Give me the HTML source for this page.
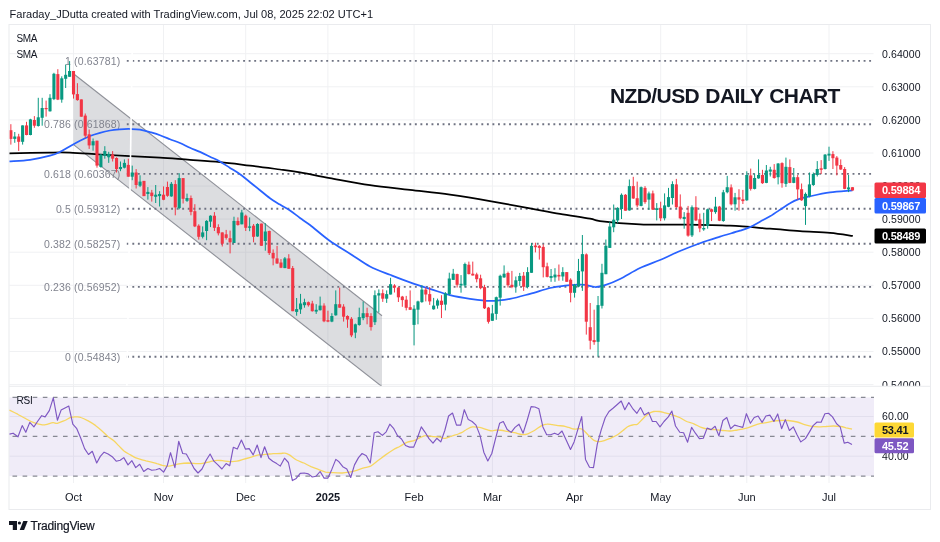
<!DOCTYPE html><html><head><meta charset="utf-8"><title>NZD/USD Daily Chart</title>
<style>html,body{margin:0;padding:0;background:#fff;}body{width:940px;height:542px;overflow:hidden;}svg{display:block;will-change:transform;font-family:"Liberation Sans",sans-serif;}text{font-family:"Liberation Sans",sans-serif;}</style></head><body>
<svg width="940" height="542" viewBox="0 0 940 542">
<rect x="0" y="0" width="940" height="542" fill="#fff"/>
<text x="9.5" y="17.6" font-size="11.05" fill="#131722" id="hdr">Faraday_JDutta created with TradingView.com, Jul 08, 2025 22:02 UTC+1</text>
<rect x="9.0" y="24.5" width="921.5" height="485.0" fill="#fff" stroke="#eaebee" stroke-width="1"/>
<g stroke="#f0f1f3" stroke-width="1">
<line x1="73.5" y1="25" x2="73.5" y2="483"/>
<line x1="163.5" y1="25" x2="163.5" y2="483"/>
<line x1="245.7" y1="25" x2="245.7" y2="483"/>
<line x1="327.9" y1="25" x2="327.9" y2="483"/>
<line x1="414.1" y1="25" x2="414.1" y2="483"/>
<line x1="492.4" y1="25" x2="492.4" y2="483"/>
<line x1="574.6" y1="25" x2="574.6" y2="483"/>
<line x1="660.7" y1="25" x2="660.7" y2="483"/>
<line x1="746.8" y1="25" x2="746.8" y2="483"/>
<line x1="829.0" y1="25" x2="829.0" y2="483"/>
<line x1="9.0" y1="53.7" x2="873.5" y2="53.7"/>
<line x1="9.0" y1="86.8" x2="873.5" y2="86.8"/>
<line x1="9.0" y1="119.9" x2="873.5" y2="119.9"/>
<line x1="9.0" y1="153.0" x2="873.5" y2="153.0"/>
<line x1="9.0" y1="186.1" x2="873.5" y2="186.1"/>
<line x1="9.0" y1="219.1" x2="873.5" y2="219.1"/>
<line x1="9.0" y1="252.2" x2="873.5" y2="252.2"/>
<line x1="9.0" y1="285.3" x2="873.5" y2="285.3"/>
<line x1="9.0" y1="318.4" x2="873.5" y2="318.4"/>
<line x1="9.0" y1="351.5" x2="873.5" y2="351.5"/>
<line x1="9.0" y1="384.6" x2="873.5" y2="384.6"/>
<line x1="9.0" y1="416.5" x2="873.5" y2="416.5"/>
<line x1="9.0" y1="456.2" x2="873.5" y2="456.2"/>
</g>
<line x1="9.0" y1="386.3" x2="930.5" y2="386.3" stroke="#eaebee" stroke-width="1"/>
<defs><clipPath id="cp"><rect x="9.5" y="25" width="864.5" height="360.8"/></clipPath><clipPath id="ca"><rect x="873.5" y="25" width="57.0" height="360.8"/></clipPath></defs>
<g clip-path="url(#cp)">
<polygon points="73.5,73.7 382.0,315.7 382.0,386.6 73.5,144.6" fill="rgba(120,123,134,0.26)"/>
<line x1="73.5" y1="73.7" x2="382.0" y2="315.7" stroke="#8e9098" stroke-width="1.1"/>
<line x1="73.5" y1="144.6" x2="382.0" y2="386.6" stroke="#8e9098" stroke-width="1.1"/>
<line x1="126.8" y1="60.9" x2="872.5" y2="60.9" stroke="#6f7382" stroke-width="1.9" stroke-dasharray="1.9 3.64"/>
<text x="120.3" y="64.8" font-size="10.5" fill="#80838e" text-anchor="end" letter-spacing="0.15">1 (0.63781)</text>
<line x1="126.8" y1="124.2" x2="872.5" y2="124.2" stroke="#6f7382" stroke-width="1.9" stroke-dasharray="1.9 3.64"/>
<text x="120.3" y="128.1" font-size="10.5" fill="#80838e" text-anchor="end" letter-spacing="0.15">0.786 (0.61868)</text>
<line x1="126.8" y1="173.9" x2="872.5" y2="173.9" stroke="#6f7382" stroke-width="1.9" stroke-dasharray="1.9 3.64"/>
<text x="120.3" y="177.8" font-size="10.5" fill="#80838e" text-anchor="end" letter-spacing="0.15">0.618 (0.60367)</text>
<line x1="126.8" y1="208.8" x2="872.5" y2="208.8" stroke="#6f7382" stroke-width="1.9" stroke-dasharray="1.9 3.64"/>
<text x="120.3" y="212.7" font-size="10.5" fill="#80838e" text-anchor="end" letter-spacing="0.15">0.5 (0.59312)</text>
<line x1="126.8" y1="243.7" x2="872.5" y2="243.7" stroke="#6f7382" stroke-width="1.9" stroke-dasharray="1.9 3.64"/>
<text x="120.3" y="247.6" font-size="10.5" fill="#80838e" text-anchor="end" letter-spacing="0.15">0.382 (0.58257)</text>
<line x1="126.8" y1="286.9" x2="872.5" y2="286.9" stroke="#6f7382" stroke-width="1.9" stroke-dasharray="1.9 3.64"/>
<text x="120.3" y="290.8" font-size="10.5" fill="#80838e" text-anchor="end" letter-spacing="0.15">0.236 (0.56952)</text>
<line x1="126.8" y1="356.7" x2="872.5" y2="356.7" stroke="#6f7382" stroke-width="1.9" stroke-dasharray="1.9 3.64"/>
<text x="120.3" y="360.6" font-size="10.5" fill="#80838e" text-anchor="end" letter-spacing="0.15">0 (0.54843)</text>
<path d="M9.0,153.5 C15.8,153.3 39.8,152.8 50.0,152.6 C60.2,152.4 61.7,152.3 70.0,152.6 C78.3,152.9 90.0,153.9 100.0,154.5 C110.0,155.1 120.0,155.6 130.0,156.1 C140.0,156.6 150.0,157.1 160.0,157.7 C170.0,158.3 180.0,159.2 190.0,159.9 C200.0,160.6 210.0,161.2 220.0,162.1 C230.0,163.0 240.0,164.4 250.0,165.6 C260.0,166.8 271.7,168.4 280.0,169.5 C288.3,170.6 291.7,171.0 300.0,172.4 C308.3,173.8 318.3,176.0 330.0,178.1 C341.7,180.2 356.7,183.1 370.0,185.1 C383.3,187.1 396.7,188.3 410.0,189.9 C423.3,191.5 436.7,192.8 450.0,194.7 C463.3,196.6 476.7,198.8 490.0,201.1 C503.3,203.4 518.3,206.3 530.0,208.4 C541.7,210.5 550.0,212.1 560.0,213.8 C570.0,215.5 583.3,217.4 590.0,218.6 C596.7,219.8 591.7,220.1 600.0,221.1 C608.3,222.1 626.7,223.7 640.0,224.3 C653.3,224.9 665.0,224.4 680.0,224.6 C695.0,224.8 715.0,225.0 730.0,225.7 C745.0,226.4 758.3,227.8 770.0,228.7 C781.7,229.6 790.0,230.5 800.0,231.2 C810.0,231.9 821.2,232.1 830.0,232.9 C838.8,233.7 849.0,235.4 852.8,235.9" fill="none" stroke="#000" stroke-width="1.75" stroke-linejoin="round"/>
<path d="M9.0,161.5 C12.5,161.2 23.2,160.9 30.0,159.9 C36.8,158.9 45.0,157.0 50.0,155.7 C55.0,154.4 56.7,153.5 60.0,151.9 C63.3,150.3 66.7,148.1 70.0,146.2 C73.3,144.3 76.7,142.4 80.0,140.7 C83.3,139.0 86.7,137.3 90.0,136.0 C93.3,134.7 96.7,133.7 100.0,132.8 C103.3,131.9 106.7,131.1 110.0,130.5 C113.3,129.9 116.7,129.6 120.0,129.3 C123.3,129.1 126.7,128.9 130.0,129.0 C133.3,129.1 136.7,129.1 140.0,129.6 C143.3,130.1 146.7,131.1 150.0,132.1 C153.3,133.1 156.7,134.1 160.0,135.3 C163.3,136.5 166.7,137.9 170.0,139.2 C173.3,140.5 176.7,141.6 180.0,143.0 C183.3,144.4 186.7,146.3 190.0,147.8 C193.3,149.3 196.7,150.4 200.0,151.9 C203.3,153.4 206.7,155.1 210.0,156.7 C213.3,158.3 216.7,159.6 220.0,161.5 C223.3,163.4 226.7,165.8 230.0,167.9 C233.3,170.0 236.7,171.9 240.0,174.3 C243.3,176.7 246.7,179.5 250.0,182.2 C253.3,184.8 256.7,187.5 260.0,190.2 C263.3,192.9 266.7,195.8 270.0,198.2 C273.3,200.6 276.7,202.5 280.0,204.6 C283.3,206.7 286.7,208.3 290.0,210.5 C293.3,212.7 296.7,215.6 300.0,218.0 C303.3,220.4 305.0,221.2 310.0,225.0 C315.0,228.8 323.3,236.2 330.0,241.0 C336.7,245.8 343.3,249.4 350.0,253.7 C356.7,257.9 363.3,263.0 370.0,266.5 C376.7,270.0 383.3,272.2 390.0,274.8 C396.7,277.4 403.3,280.0 410.0,282.3 C416.7,284.6 423.3,286.7 430.0,288.8 C436.7,290.9 443.3,293.5 450.0,295.2 C456.7,296.9 463.3,297.9 470.0,298.8 C476.7,299.8 483.3,300.9 490.0,300.9 C496.7,300.9 503.3,300.0 510.0,298.8 C516.7,297.6 523.3,295.6 530.0,293.8 C536.7,292.0 544.2,289.4 550.0,288.0 C555.8,286.6 560.8,286.1 565.0,285.6 C569.2,285.1 571.7,284.9 575.0,284.8 C578.3,284.7 581.7,284.4 585.0,284.8 C588.3,285.2 591.7,286.9 595.0,287.0 C598.3,287.1 600.8,286.5 605.0,285.2 C609.2,283.9 614.2,281.9 620.0,279.0 C625.8,276.1 633.3,271.2 640.0,268.0 C646.7,264.8 653.3,262.8 660.0,260.0 C666.7,257.2 673.3,253.8 680.0,251.0 C686.7,248.2 693.3,245.6 700.0,243.2 C706.7,240.8 713.3,238.8 720.0,236.7 C726.7,234.6 735.0,232.3 740.0,230.7 C745.0,229.1 746.7,228.6 750.0,227.1 C753.3,225.6 756.7,223.5 760.0,221.7 C763.3,219.9 766.7,218.3 770.0,216.3 C773.3,214.3 776.7,212.0 780.0,209.8 C783.3,207.6 786.7,205.0 790.0,203.2 C793.3,201.3 796.7,199.8 800.0,198.7 C803.3,197.5 805.0,197.4 810.0,196.3 C815.0,195.2 822.9,193.4 830.0,192.4 C837.1,191.4 848.8,190.7 852.5,190.3" fill="none" stroke="#2962ff" stroke-width="1.75" stroke-linejoin="round"/>
<line x1="132.6" y1="25" x2="126.9" y2="386" stroke="#fff" stroke-width="1.6"/>
<line x1="10.87" y1="124.2" x2="10.87" y2="144.6" stroke="#f23645" stroke-width="1"/>
<rect x="9.32" y="130.2" width="3.1" height="8.7" fill="#f23645"/>
<line x1="14.78" y1="132.0" x2="14.78" y2="142.8" stroke="#089981" stroke-width="1"/>
<rect x="13.23" y="136.5" width="3.1" height="2.4" fill="#089981"/>
<line x1="18.70" y1="133.8" x2="18.70" y2="150.9" stroke="#f23645" stroke-width="1"/>
<rect x="17.15" y="136.5" width="3.1" height="5.3" fill="#f23645"/>
<line x1="22.61" y1="125.4" x2="22.61" y2="144.6" stroke="#089981" stroke-width="1"/>
<rect x="21.06" y="125.4" width="3.1" height="16.4" fill="#089981"/>
<line x1="26.53" y1="121.8" x2="26.53" y2="135.3" stroke="#f23645" stroke-width="1"/>
<rect x="24.98" y="125.4" width="3.1" height="9.6" fill="#f23645"/>
<line x1="30.44" y1="118.8" x2="30.44" y2="135.3" stroke="#089981" stroke-width="1"/>
<rect x="28.89" y="119.4" width="3.1" height="15.6" fill="#089981"/>
<line x1="34.36" y1="116.1" x2="34.36" y2="127.8" stroke="#f23645" stroke-width="1"/>
<rect x="32.81" y="120.0" width="3.1" height="5.7" fill="#f23645"/>
<line x1="38.27" y1="97.8" x2="38.27" y2="126.6" stroke="#089981" stroke-width="1"/>
<rect x="36.72" y="117.3" width="3.1" height="8.7" fill="#089981"/>
<line x1="42.18" y1="97.8" x2="42.18" y2="125.7" stroke="#089981" stroke-width="1"/>
<rect x="40.63" y="108.0" width="3.1" height="9.8" fill="#089981"/>
<line x1="46.10" y1="100.6" x2="46.10" y2="116.6" stroke="#f23645" stroke-width="1"/>
<rect x="44.55" y="108.0" width="3.1" height="1.2" fill="#f23645"/>
<line x1="50.01" y1="94.2" x2="50.01" y2="111.6" stroke="#089981" stroke-width="1"/>
<rect x="48.46" y="97.8" width="3.1" height="13.5" fill="#089981"/>
<line x1="53.93" y1="72.8" x2="53.93" y2="100.1" stroke="#089981" stroke-width="1"/>
<rect x="52.38" y="73.8" width="3.1" height="25.3" fill="#089981"/>
<line x1="57.84" y1="69.2" x2="57.84" y2="100.1" stroke="#f23645" stroke-width="1"/>
<rect x="56.29" y="74.1" width="3.1" height="25.5" fill="#f23645"/>
<line x1="61.76" y1="76.3" x2="61.76" y2="102.7" stroke="#089981" stroke-width="1"/>
<rect x="60.21" y="78.3" width="3.1" height="21.3" fill="#089981"/>
<line x1="65.67" y1="64.6" x2="65.67" y2="88.0" stroke="#089981" stroke-width="1"/>
<rect x="64.12" y="74.8" width="3.1" height="4.0" fill="#089981"/>
<line x1="69.59" y1="61.1" x2="69.59" y2="76.8" stroke="#089981" stroke-width="1"/>
<rect x="68.04" y="71.0" width="3.1" height="5.8" fill="#089981"/>
<line x1="73.50" y1="71.0" x2="73.50" y2="98.6" stroke="#f23645" stroke-width="1"/>
<rect x="71.95" y="71.0" width="3.1" height="23.4" fill="#f23645"/>
<line x1="77.41" y1="83.2" x2="77.41" y2="100.7" stroke="#f23645" stroke-width="1"/>
<rect x="75.86" y="94.1" width="3.1" height="6.0" fill="#f23645"/>
<line x1="81.33" y1="99.4" x2="81.33" y2="116.7" stroke="#f23645" stroke-width="1"/>
<rect x="79.78" y="99.4" width="3.1" height="17.3" fill="#f23645"/>
<line x1="85.24" y1="113.5" x2="85.24" y2="137.8" stroke="#f23645" stroke-width="1"/>
<rect x="83.69" y="115.6" width="3.1" height="20.1" fill="#f23645"/>
<line x1="89.16" y1="129.5" x2="89.16" y2="148.9" stroke="#f23645" stroke-width="1"/>
<rect x="87.61" y="134.3" width="3.1" height="11.1" fill="#f23645"/>
<line x1="93.07" y1="138.5" x2="93.07" y2="150.7" stroke="#089981" stroke-width="1"/>
<rect x="91.52" y="141.2" width="3.1" height="4.2" fill="#089981"/>
<line x1="96.99" y1="140.7" x2="96.99" y2="167.7" stroke="#f23645" stroke-width="1"/>
<rect x="95.44" y="140.7" width="3.1" height="24.9" fill="#f23645"/>
<line x1="100.90" y1="153.9" x2="100.90" y2="167.7" stroke="#089981" stroke-width="1"/>
<rect x="99.35" y="154.5" width="3.1" height="12.5" fill="#089981"/>
<line x1="104.82" y1="146.2" x2="104.82" y2="158.7" stroke="#089981" stroke-width="1"/>
<rect x="103.27" y="151.1" width="3.1" height="4.8" fill="#089981"/>
<line x1="108.73" y1="151.8" x2="108.73" y2="162.9" stroke="#089981" stroke-width="1"/>
<rect x="107.18" y="153.9" width="3.1" height="3.4" fill="#089981"/>
<line x1="112.64" y1="151.1" x2="112.64" y2="161.5" stroke="#f23645" stroke-width="1"/>
<rect x="111.09" y="154.5" width="3.1" height="4.2" fill="#f23645"/>
<line x1="116.56" y1="157.3" x2="116.56" y2="172.5" stroke="#f23645" stroke-width="1"/>
<rect x="115.01" y="158.0" width="3.1" height="11.1" fill="#f23645"/>
<line x1="120.47" y1="161.5" x2="120.47" y2="171.2" stroke="#089981" stroke-width="1"/>
<rect x="118.92" y="167.0" width="3.1" height="2.1" fill="#089981"/>
<line x1="124.39" y1="159.4" x2="124.39" y2="168.4" stroke="#089981" stroke-width="1"/>
<rect x="122.84" y="162.9" width="3.1" height="4.8" fill="#089981"/>
<line x1="128.30" y1="158.7" x2="128.30" y2="176.7" stroke="#f23645" stroke-width="1"/>
<rect x="126.75" y="164.9" width="3.1" height="11.8" fill="#f23645"/>
<line x1="132.22" y1="165.6" x2="132.22" y2="180.2" stroke="#089981" stroke-width="1"/>
<rect x="130.67" y="172.5" width="3.1" height="4.2" fill="#089981"/>
<line x1="136.13" y1="169.1" x2="136.13" y2="188.5" stroke="#f23645" stroke-width="1"/>
<rect x="134.58" y="172.5" width="3.1" height="12.5" fill="#f23645"/>
<line x1="140.05" y1="175.3" x2="140.05" y2="187.1" stroke="#089981" stroke-width="1"/>
<rect x="138.50" y="181.6" width="3.1" height="4.1" fill="#089981"/>
<line x1="143.96" y1="180.9" x2="143.96" y2="196.1" stroke="#f23645" stroke-width="1"/>
<rect x="142.41" y="180.9" width="3.1" height="15.2" fill="#f23645"/>
<line x1="147.88" y1="187.1" x2="147.88" y2="199.6" stroke="#089981" stroke-width="1"/>
<rect x="146.33" y="191.9" width="3.1" height="2.1" fill="#089981"/>
<line x1="151.79" y1="189.9" x2="151.79" y2="201.6" stroke="#f23645" stroke-width="1"/>
<rect x="150.24" y="192.6" width="3.1" height="3.5" fill="#f23645"/>
<line x1="155.70" y1="185.0" x2="155.70" y2="203.0" stroke="#089981" stroke-width="1"/>
<rect x="154.15" y="194.7" width="3.1" height="2.1" fill="#089981"/>
<line x1="159.62" y1="191.2" x2="159.62" y2="206.5" stroke="#089981" stroke-width="1"/>
<rect x="158.07" y="194.0" width="3.1" height="2.1" fill="#089981"/>
<line x1="163.53" y1="186.4" x2="163.53" y2="200.2" stroke="#f23645" stroke-width="1"/>
<rect x="161.98" y="194.7" width="3.1" height="5.1" fill="#f23645"/>
<line x1="167.45" y1="181.6" x2="167.45" y2="196.8" stroke="#f23645" stroke-width="1"/>
<rect x="165.90" y="187.0" width="3.1" height="8.8" fill="#f23645"/>
<line x1="171.36" y1="182.0" x2="171.36" y2="196.8" stroke="#089981" stroke-width="1"/>
<rect x="169.81" y="183.8" width="3.1" height="12.6" fill="#089981"/>
<line x1="175.28" y1="180.2" x2="175.28" y2="215.3" stroke="#f23645" stroke-width="1"/>
<rect x="173.73" y="184.1" width="3.1" height="23.3" fill="#f23645"/>
<line x1="179.19" y1="173.2" x2="179.19" y2="209.3" stroke="#089981" stroke-width="1"/>
<rect x="177.64" y="178.1" width="3.1" height="30.0" fill="#089981"/>
<line x1="183.11" y1="178.1" x2="183.11" y2="203.5" stroke="#f23645" stroke-width="1"/>
<rect x="181.56" y="178.1" width="3.1" height="20.7" fill="#f23645"/>
<line x1="187.02" y1="193.6" x2="187.02" y2="201.9" stroke="#089981" stroke-width="1"/>
<rect x="185.47" y="198.0" width="3.1" height="2.8" fill="#089981"/>
<line x1="190.94" y1="195.5" x2="190.94" y2="215.3" stroke="#f23645" stroke-width="1"/>
<rect x="189.38" y="198.0" width="3.1" height="13.9" fill="#f23645"/>
<line x1="194.85" y1="204.2" x2="194.85" y2="227.1" stroke="#f23645" stroke-width="1"/>
<rect x="193.30" y="211.2" width="3.1" height="15.2" fill="#f23645"/>
<line x1="198.76" y1="224.3" x2="198.76" y2="239.6" stroke="#f23645" stroke-width="1"/>
<rect x="197.21" y="225.7" width="3.1" height="11.1" fill="#f23645"/>
<line x1="202.68" y1="226.4" x2="202.68" y2="238.4" stroke="#089981" stroke-width="1"/>
<rect x="201.13" y="232.4" width="3.1" height="4.4" fill="#089981"/>
<line x1="206.59" y1="220.2" x2="206.59" y2="240.2" stroke="#089981" stroke-width="1"/>
<rect x="205.04" y="220.9" width="3.1" height="10.1" fill="#089981"/>
<line x1="210.51" y1="215.3" x2="210.51" y2="227.1" stroke="#089981" stroke-width="1"/>
<rect x="208.96" y="215.7" width="3.1" height="5.9" fill="#089981"/>
<line x1="214.42" y1="212.1" x2="214.42" y2="231.0" stroke="#f23645" stroke-width="1"/>
<rect x="212.87" y="215.7" width="3.1" height="12.1" fill="#f23645"/>
<line x1="218.34" y1="224.3" x2="218.34" y2="235.4" stroke="#f23645" stroke-width="1"/>
<rect x="216.79" y="227.1" width="3.1" height="6.2" fill="#f23645"/>
<line x1="222.25" y1="232.4" x2="222.25" y2="246.5" stroke="#f23645" stroke-width="1"/>
<rect x="220.70" y="232.4" width="3.1" height="11.3" fill="#f23645"/>
<line x1="226.17" y1="229.9" x2="226.17" y2="239.6" stroke="#f23645" stroke-width="1"/>
<rect x="224.62" y="234.3" width="3.1" height="3.6" fill="#f23645"/>
<line x1="230.08" y1="230.6" x2="230.08" y2="253.4" stroke="#f23645" stroke-width="1"/>
<rect x="228.53" y="238.2" width="3.1" height="4.1" fill="#f23645"/>
<line x1="233.99" y1="216.7" x2="233.99" y2="243.0" stroke="#089981" stroke-width="1"/>
<rect x="232.44" y="220.9" width="3.1" height="22.1" fill="#089981"/>
<line x1="237.91" y1="217.4" x2="237.91" y2="225.7" stroke="#f23645" stroke-width="1"/>
<rect x="236.36" y="220.9" width="3.1" height="4.1" fill="#f23645"/>
<line x1="241.82" y1="209.8" x2="241.82" y2="224.3" stroke="#089981" stroke-width="1"/>
<rect x="240.27" y="212.5" width="3.1" height="11.8" fill="#089981"/>
<line x1="245.74" y1="214.6" x2="245.74" y2="231.0" stroke="#f23645" stroke-width="1"/>
<rect x="244.19" y="215.7" width="3.1" height="12.1" fill="#f23645"/>
<line x1="249.65" y1="217.4" x2="249.65" y2="231.2" stroke="#089981" stroke-width="1"/>
<rect x="248.10" y="226.4" width="3.1" height="1.4" fill="#089981"/>
<line x1="253.57" y1="224.0" x2="253.57" y2="242.3" stroke="#f23645" stroke-width="1"/>
<rect x="252.02" y="225.7" width="3.1" height="11.1" fill="#f23645"/>
<line x1="257.48" y1="223.2" x2="257.48" y2="236.8" stroke="#089981" stroke-width="1"/>
<rect x="255.93" y="224.0" width="3.1" height="12.5" fill="#089981"/>
<line x1="261.40" y1="223.6" x2="261.40" y2="245.8" stroke="#f23645" stroke-width="1"/>
<rect x="259.85" y="223.6" width="3.1" height="22.2" fill="#f23645"/>
<line x1="265.31" y1="223.2" x2="265.31" y2="250.7" stroke="#089981" stroke-width="1"/>
<rect x="263.76" y="231.5" width="3.1" height="9.5" fill="#089981"/>
<line x1="269.23" y1="230.6" x2="269.23" y2="255.0" stroke="#f23645" stroke-width="1"/>
<rect x="267.68" y="231.0" width="3.1" height="22.1" fill="#f23645"/>
<line x1="273.14" y1="249.4" x2="273.14" y2="265.3" stroke="#f23645" stroke-width="1"/>
<rect x="271.59" y="252.9" width="3.1" height="5.5" fill="#f23645"/>
<line x1="277.05" y1="245.9" x2="277.05" y2="263.9" stroke="#f23645" stroke-width="1"/>
<rect x="275.50" y="258.4" width="3.1" height="5.1" fill="#f23645"/>
<line x1="280.97" y1="259.1" x2="280.97" y2="268.1" stroke="#f23645" stroke-width="1"/>
<rect x="279.42" y="262.5" width="3.1" height="5.2" fill="#f23645"/>
<line x1="284.88" y1="257.0" x2="284.88" y2="268.1" stroke="#089981" stroke-width="1"/>
<rect x="283.33" y="258.4" width="3.1" height="9.7" fill="#089981"/>
<line x1="288.80" y1="254.2" x2="288.80" y2="268.8" stroke="#f23645" stroke-width="1"/>
<rect x="287.25" y="258.4" width="3.1" height="10.4" fill="#f23645"/>
<line x1="292.71" y1="266.0" x2="292.71" y2="311.2" stroke="#f23645" stroke-width="1"/>
<rect x="291.16" y="268.1" width="3.1" height="43.1" fill="#f23645"/>
<line x1="296.63" y1="298.0" x2="296.63" y2="315.7" stroke="#089981" stroke-width="1"/>
<rect x="295.08" y="309.1" width="3.1" height="2.8" fill="#089981"/>
<line x1="300.54" y1="293.9" x2="300.54" y2="313.9" stroke="#089981" stroke-width="1"/>
<rect x="298.99" y="303.5" width="3.1" height="5.9" fill="#089981"/>
<line x1="304.46" y1="298.7" x2="304.46" y2="307.7" stroke="#089981" stroke-width="1"/>
<rect x="302.91" y="302.2" width="3.1" height="3.0" fill="#089981"/>
<line x1="308.37" y1="301.5" x2="308.37" y2="306.6" stroke="#f23645" stroke-width="1"/>
<rect x="306.82" y="302.2" width="3.1" height="3.0" fill="#f23645"/>
<line x1="312.28" y1="300.8" x2="312.28" y2="311.6" stroke="#f23645" stroke-width="1"/>
<rect x="310.73" y="303.5" width="3.1" height="7.7" fill="#f23645"/>
<line x1="316.20" y1="304.2" x2="316.20" y2="313.9" stroke="#089981" stroke-width="1"/>
<rect x="314.65" y="309.8" width="3.1" height="1.8" fill="#089981"/>
<line x1="320.11" y1="296.6" x2="320.11" y2="310.5" stroke="#089981" stroke-width="1"/>
<rect x="318.56" y="305.6" width="3.1" height="4.6" fill="#089981"/>
<line x1="324.03" y1="303.3" x2="324.03" y2="322.2" stroke="#f23645" stroke-width="1"/>
<rect x="322.48" y="305.6" width="3.1" height="15.7" fill="#f23645"/>
<line x1="327.94" y1="310.7" x2="327.94" y2="322.2" stroke="#f23645" stroke-width="1"/>
<rect x="326.39" y="320.2" width="3.1" height="1.4" fill="#f23645"/>
<line x1="331.86" y1="313.2" x2="331.86" y2="322.2" stroke="#089981" stroke-width="1"/>
<rect x="330.31" y="316.0" width="3.1" height="5.6" fill="#089981"/>
<line x1="335.77" y1="290.4" x2="335.77" y2="315.7" stroke="#089981" stroke-width="1"/>
<rect x="334.22" y="304.2" width="3.1" height="11.1" fill="#089981"/>
<line x1="339.69" y1="287.6" x2="339.69" y2="307.7" stroke="#f23645" stroke-width="1"/>
<rect x="338.14" y="304.2" width="3.1" height="3.5" fill="#f23645"/>
<line x1="343.60" y1="304.2" x2="343.60" y2="321.6" stroke="#f23645" stroke-width="1"/>
<rect x="342.05" y="306.6" width="3.1" height="10.1" fill="#f23645"/>
<line x1="347.51" y1="315.3" x2="347.51" y2="327.8" stroke="#f23645" stroke-width="1"/>
<rect x="345.96" y="316.0" width="3.1" height="3.5" fill="#f23645"/>
<line x1="351.43" y1="317.1" x2="351.43" y2="337.1" stroke="#f23645" stroke-width="1"/>
<rect x="349.88" y="318.8" width="3.1" height="16.6" fill="#f23645"/>
<line x1="355.34" y1="323.6" x2="355.34" y2="338.2" stroke="#089981" stroke-width="1"/>
<rect x="353.79" y="324.3" width="3.1" height="8.3" fill="#089981"/>
<line x1="359.26" y1="307.7" x2="359.26" y2="325.7" stroke="#089981" stroke-width="1"/>
<rect x="357.71" y="317.1" width="3.1" height="7.9" fill="#089981"/>
<line x1="363.17" y1="301.5" x2="363.17" y2="320.2" stroke="#089981" stroke-width="1"/>
<rect x="361.62" y="313.2" width="3.1" height="4.9" fill="#089981"/>
<line x1="367.09" y1="307.7" x2="367.09" y2="324.3" stroke="#f23645" stroke-width="1"/>
<rect x="365.54" y="313.2" width="3.1" height="3.9" fill="#f23645"/>
<line x1="371.00" y1="313.2" x2="371.00" y2="330.6" stroke="#f23645" stroke-width="1"/>
<rect x="369.45" y="316.0" width="3.1" height="11.1" fill="#f23645"/>
<line x1="374.92" y1="290.4" x2="374.92" y2="325.0" stroke="#089981" stroke-width="1"/>
<rect x="373.37" y="295.2" width="3.1" height="27.0" fill="#089981"/>
<line x1="378.83" y1="289.4" x2="378.83" y2="312.5" stroke="#089981" stroke-width="1"/>
<rect x="377.28" y="293.2" width="3.1" height="2.3" fill="#089981"/>
<line x1="382.75" y1="289.4" x2="382.75" y2="301.9" stroke="#f23645" stroke-width="1"/>
<rect x="381.20" y="293.2" width="3.1" height="5.5" fill="#f23645"/>
<line x1="386.66" y1="290.4" x2="386.66" y2="302.9" stroke="#089981" stroke-width="1"/>
<rect x="385.11" y="294.1" width="3.1" height="4.6" fill="#089981"/>
<line x1="390.57" y1="277.8" x2="390.57" y2="294.5" stroke="#089981" stroke-width="1"/>
<rect x="389.02" y="284.2" width="3.1" height="10.3" fill="#089981"/>
<line x1="394.49" y1="284.2" x2="394.49" y2="292.5" stroke="#f23645" stroke-width="1"/>
<rect x="392.94" y="285.5" width="3.1" height="2.1" fill="#f23645"/>
<line x1="398.40" y1="286.9" x2="398.40" y2="302.0" stroke="#f23645" stroke-width="1"/>
<rect x="396.85" y="287.6" width="3.1" height="9.7" fill="#f23645"/>
<line x1="402.32" y1="295.9" x2="402.32" y2="306.8" stroke="#f23645" stroke-width="1"/>
<rect x="400.77" y="296.6" width="3.1" height="3.5" fill="#f23645"/>
<line x1="406.23" y1="295.9" x2="406.23" y2="310.4" stroke="#f23645" stroke-width="1"/>
<rect x="404.68" y="299.7" width="3.1" height="8.1" fill="#f23645"/>
<line x1="410.15" y1="290.4" x2="410.15" y2="310.0" stroke="#f23645" stroke-width="1"/>
<rect x="408.60" y="307.2" width="3.1" height="2.6" fill="#f23645"/>
<line x1="414.06" y1="305.2" x2="414.06" y2="345.4" stroke="#089981" stroke-width="1"/>
<rect x="412.51" y="308.7" width="3.1" height="16.2" fill="#089981"/>
<line x1="417.98" y1="300.7" x2="417.98" y2="324.3" stroke="#089981" stroke-width="1"/>
<rect x="416.43" y="301.4" width="3.1" height="8.3" fill="#089981"/>
<line x1="421.89" y1="285.2" x2="421.89" y2="302.8" stroke="#089981" stroke-width="1"/>
<rect x="420.34" y="289.6" width="3.1" height="12.5" fill="#089981"/>
<line x1="425.81" y1="287.5" x2="425.81" y2="301.4" stroke="#f23645" stroke-width="1"/>
<rect x="424.25" y="289.6" width="3.1" height="4.9" fill="#f23645"/>
<line x1="429.72" y1="287.1" x2="429.72" y2="304.9" stroke="#f23645" stroke-width="1"/>
<rect x="428.17" y="294.1" width="3.1" height="7.3" fill="#f23645"/>
<line x1="433.63" y1="297.9" x2="433.63" y2="309.7" stroke="#089981" stroke-width="1"/>
<rect x="432.08" y="305.6" width="3.1" height="3.7" fill="#089981"/>
<line x1="437.55" y1="298.6" x2="437.55" y2="308.7" stroke="#089981" stroke-width="1"/>
<rect x="436.00" y="300.4" width="3.1" height="5.2" fill="#089981"/>
<line x1="441.46" y1="295.2" x2="441.46" y2="318.0" stroke="#f23645" stroke-width="1"/>
<rect x="439.91" y="300.7" width="3.1" height="4.2" fill="#f23645"/>
<line x1="445.38" y1="292.1" x2="445.38" y2="310.4" stroke="#089981" stroke-width="1"/>
<rect x="443.83" y="293.5" width="3.1" height="11.1" fill="#089981"/>
<line x1="449.29" y1="272.7" x2="449.29" y2="295.2" stroke="#089981" stroke-width="1"/>
<rect x="447.74" y="278.5" width="3.1" height="15.6" fill="#089981"/>
<line x1="453.21" y1="268.9" x2="453.21" y2="279.9" stroke="#089981" stroke-width="1"/>
<rect x="451.66" y="273.7" width="3.1" height="6.2" fill="#089981"/>
<line x1="457.12" y1="273.7" x2="457.12" y2="287.5" stroke="#f23645" stroke-width="1"/>
<rect x="455.57" y="274.1" width="3.1" height="10.7" fill="#f23645"/>
<line x1="461.04" y1="275.1" x2="461.04" y2="292.7" stroke="#089981" stroke-width="1"/>
<rect x="459.49" y="283.8" width="3.1" height="1.7" fill="#089981"/>
<line x1="464.95" y1="262.6" x2="464.95" y2="287.5" stroke="#089981" stroke-width="1"/>
<rect x="463.40" y="264.0" width="3.1" height="21.5" fill="#089981"/>
<line x1="468.86" y1="261.6" x2="468.86" y2="274.4" stroke="#f23645" stroke-width="1"/>
<rect x="467.31" y="264.7" width="3.1" height="9.4" fill="#f23645"/>
<line x1="472.78" y1="261.6" x2="472.78" y2="275.5" stroke="#f23645" stroke-width="1"/>
<rect x="471.23" y="273.7" width="3.1" height="1.8" fill="#f23645"/>
<line x1="476.69" y1="272.7" x2="476.69" y2="282.4" stroke="#f23645" stroke-width="1"/>
<rect x="475.14" y="274.4" width="3.1" height="4.8" fill="#f23645"/>
<line x1="480.61" y1="274.7" x2="480.61" y2="289.3" stroke="#f23645" stroke-width="1"/>
<rect x="479.06" y="278.3" width="3.1" height="9.9" fill="#f23645"/>
<line x1="484.52" y1="284.8" x2="484.52" y2="309.0" stroke="#f23645" stroke-width="1"/>
<rect x="482.97" y="287.1" width="3.1" height="21.2" fill="#f23645"/>
<line x1="488.44" y1="306.9" x2="488.44" y2="323.6" stroke="#f23645" stroke-width="1"/>
<rect x="486.89" y="307.6" width="3.1" height="14.2" fill="#f23645"/>
<line x1="492.35" y1="304.9" x2="492.35" y2="320.8" stroke="#089981" stroke-width="1"/>
<rect x="490.80" y="313.4" width="3.1" height="7.4" fill="#089981"/>
<line x1="496.27" y1="296.6" x2="496.27" y2="319.8" stroke="#089981" stroke-width="1"/>
<rect x="494.72" y="297.2" width="3.1" height="16.7" fill="#089981"/>
<line x1="500.18" y1="274.7" x2="500.18" y2="305.6" stroke="#089981" stroke-width="1"/>
<rect x="498.63" y="275.8" width="3.1" height="21.9" fill="#089981"/>
<line x1="504.09" y1="265.4" x2="504.09" y2="277.9" stroke="#089981" stroke-width="1"/>
<rect x="502.54" y="273.7" width="3.1" height="3.7" fill="#089981"/>
<line x1="508.01" y1="271.6" x2="508.01" y2="287.5" stroke="#f23645" stroke-width="1"/>
<rect x="506.46" y="273.0" width="3.1" height="12.2" fill="#f23645"/>
<line x1="511.92" y1="270.9" x2="511.92" y2="288.2" stroke="#f23645" stroke-width="1"/>
<rect x="510.37" y="284.8" width="3.1" height="2.3" fill="#f23645"/>
<line x1="515.84" y1="276.5" x2="515.84" y2="292.7" stroke="#089981" stroke-width="1"/>
<rect x="514.29" y="280.3" width="3.1" height="6.5" fill="#089981"/>
<line x1="519.75" y1="272.9" x2="519.75" y2="285.8" stroke="#089981" stroke-width="1"/>
<rect x="518.20" y="276.0" width="3.1" height="5.0" fill="#089981"/>
<line x1="523.67" y1="272.0" x2="523.67" y2="290.9" stroke="#f23645" stroke-width="1"/>
<rect x="522.12" y="275.7" width="3.1" height="11.1" fill="#f23645"/>
<line x1="527.58" y1="267.2" x2="527.58" y2="288.4" stroke="#089981" stroke-width="1"/>
<rect x="526.03" y="272.1" width="3.1" height="14.9" fill="#089981"/>
<line x1="531.50" y1="243.0" x2="531.50" y2="272.8" stroke="#089981" stroke-width="1"/>
<rect x="529.95" y="245.8" width="3.1" height="27.0" fill="#089981"/>
<line x1="535.41" y1="242.7" x2="535.41" y2="252.4" stroke="#f23645" stroke-width="1"/>
<rect x="533.86" y="245.5" width="3.1" height="1.7" fill="#f23645"/>
<line x1="539.33" y1="245.1" x2="539.33" y2="259.6" stroke="#f23645" stroke-width="1"/>
<rect x="537.78" y="245.8" width="3.1" height="2.1" fill="#f23645"/>
<line x1="543.24" y1="244.4" x2="543.24" y2="277.4" stroke="#f23645" stroke-width="1"/>
<rect x="541.69" y="246.9" width="3.1" height="20.3" fill="#f23645"/>
<line x1="547.15" y1="262.7" x2="547.15" y2="277.4" stroke="#f23645" stroke-width="1"/>
<rect x="545.60" y="266.3" width="3.1" height="10.6" fill="#f23645"/>
<line x1="551.07" y1="269.0" x2="551.07" y2="281.8" stroke="#089981" stroke-width="1"/>
<rect x="549.52" y="276.0" width="3.1" height="1.9" fill="#089981"/>
<line x1="554.98" y1="268.2" x2="554.98" y2="281.8" stroke="#089981" stroke-width="1"/>
<rect x="553.43" y="274.6" width="3.1" height="2.8" fill="#089981"/>
<line x1="558.90" y1="264.5" x2="558.90" y2="280.7" stroke="#f23645" stroke-width="1"/>
<rect x="557.35" y="274.9" width="3.1" height="1.6" fill="#f23645"/>
<line x1="562.81" y1="267.2" x2="562.81" y2="280.7" stroke="#089981" stroke-width="1"/>
<rect x="561.26" y="272.1" width="3.1" height="4.4" fill="#089981"/>
<line x1="566.73" y1="272.1" x2="566.73" y2="281.8" stroke="#f23645" stroke-width="1"/>
<rect x="565.18" y="272.1" width="3.1" height="9.7" fill="#f23645"/>
<line x1="570.64" y1="278.3" x2="570.64" y2="302.3" stroke="#f23645" stroke-width="1"/>
<rect x="569.09" y="279.7" width="3.1" height="13.1" fill="#f23645"/>
<line x1="574.56" y1="283.9" x2="574.56" y2="297.6" stroke="#089981" stroke-width="1"/>
<rect x="573.01" y="284.8" width="3.1" height="8.0" fill="#089981"/>
<line x1="578.47" y1="258.9" x2="578.47" y2="287.3" stroke="#089981" stroke-width="1"/>
<rect x="576.92" y="271.0" width="3.1" height="15.6" fill="#089981"/>
<line x1="582.38" y1="235.0" x2="582.38" y2="290.9" stroke="#089981" stroke-width="1"/>
<rect x="580.84" y="254.1" width="3.1" height="17.3" fill="#089981"/>
<line x1="586.30" y1="253.4" x2="586.30" y2="334.6" stroke="#f23645" stroke-width="1"/>
<rect x="584.75" y="254.4" width="3.1" height="67.3" fill="#f23645"/>
<line x1="590.21" y1="303.0" x2="590.21" y2="349.4" stroke="#f23645" stroke-width="1"/>
<rect x="588.66" y="327.2" width="3.1" height="13.5" fill="#f23645"/>
<line x1="594.13" y1="309.7" x2="594.13" y2="344.8" stroke="#f23645" stroke-width="1"/>
<rect x="592.58" y="340.1" width="3.1" height="2.0" fill="#f23645"/>
<line x1="598.04" y1="296.0" x2="598.04" y2="356.7" stroke="#089981" stroke-width="1"/>
<rect x="596.49" y="305.1" width="3.1" height="36.7" fill="#089981"/>
<line x1="601.96" y1="263.8" x2="601.96" y2="308.5" stroke="#089981" stroke-width="1"/>
<rect x="600.41" y="272.8" width="3.1" height="33.0" fill="#089981"/>
<line x1="605.87" y1="239.5" x2="605.87" y2="274.2" stroke="#089981" stroke-width="1"/>
<rect x="604.32" y="245.8" width="3.1" height="28.4" fill="#089981"/>
<line x1="609.79" y1="221.8" x2="609.79" y2="247.9" stroke="#089981" stroke-width="1"/>
<rect x="608.24" y="226.5" width="3.1" height="21.4" fill="#089981"/>
<line x1="613.70" y1="204.5" x2="613.70" y2="232.2" stroke="#089981" stroke-width="1"/>
<rect x="612.15" y="219.7" width="3.1" height="7.6" fill="#089981"/>
<line x1="617.62" y1="207.2" x2="617.62" y2="223.2" stroke="#089981" stroke-width="1"/>
<rect x="616.07" y="207.9" width="3.1" height="12.5" fill="#089981"/>
<line x1="621.53" y1="193.4" x2="621.53" y2="219.0" stroke="#089981" stroke-width="1"/>
<rect x="619.98" y="194.8" width="3.1" height="14.2" fill="#089981"/>
<line x1="625.44" y1="194.1" x2="625.44" y2="210.7" stroke="#f23645" stroke-width="1"/>
<rect x="623.89" y="194.8" width="3.1" height="15.9" fill="#f23645"/>
<line x1="629.36" y1="179.5" x2="629.36" y2="210.7" stroke="#089981" stroke-width="1"/>
<rect x="627.81" y="186.1" width="3.1" height="24.3" fill="#089981"/>
<line x1="633.27" y1="176.8" x2="633.27" y2="198.9" stroke="#f23645" stroke-width="1"/>
<rect x="631.72" y="186.1" width="3.1" height="12.4" fill="#f23645"/>
<line x1="637.19" y1="181.6" x2="637.19" y2="207.2" stroke="#f23645" stroke-width="1"/>
<rect x="635.64" y="198.2" width="3.1" height="7.2" fill="#f23645"/>
<line x1="641.10" y1="186.5" x2="641.10" y2="206.3" stroke="#089981" stroke-width="1"/>
<rect x="639.55" y="187.2" width="3.1" height="18.7" fill="#089981"/>
<line x1="645.02" y1="186.1" x2="645.02" y2="203.8" stroke="#f23645" stroke-width="1"/>
<rect x="643.47" y="187.9" width="3.1" height="14.2" fill="#f23645"/>
<line x1="648.93" y1="191.6" x2="648.93" y2="210.0" stroke="#089981" stroke-width="1"/>
<rect x="647.38" y="193.4" width="3.1" height="6.2" fill="#089981"/>
<line x1="652.85" y1="190.6" x2="652.85" y2="210.0" stroke="#f23645" stroke-width="1"/>
<rect x="651.30" y="193.4" width="3.1" height="16.2" fill="#f23645"/>
<line x1="656.76" y1="203.1" x2="656.76" y2="220.4" stroke="#089981" stroke-width="1"/>
<rect x="655.21" y="208.2" width="3.1" height="1.8" fill="#089981"/>
<line x1="660.67" y1="201.7" x2="660.67" y2="221.1" stroke="#f23645" stroke-width="1"/>
<rect x="659.12" y="208.2" width="3.1" height="10.1" fill="#f23645"/>
<line x1="664.59" y1="193.4" x2="664.59" y2="220.4" stroke="#089981" stroke-width="1"/>
<rect x="663.04" y="205.4" width="3.1" height="12.9" fill="#089981"/>
<line x1="668.50" y1="187.9" x2="668.50" y2="207.2" stroke="#089981" stroke-width="1"/>
<rect x="666.95" y="197.1" width="3.1" height="9.7" fill="#089981"/>
<line x1="672.42" y1="181.3" x2="672.42" y2="204.5" stroke="#089981" stroke-width="1"/>
<rect x="670.87" y="184.1" width="3.1" height="13.9" fill="#089981"/>
<line x1="676.33" y1="178.9" x2="676.33" y2="207.9" stroke="#f23645" stroke-width="1"/>
<rect x="674.78" y="184.4" width="3.1" height="22.8" fill="#f23645"/>
<line x1="680.25" y1="194.4" x2="680.25" y2="219.3" stroke="#f23645" stroke-width="1"/>
<rect x="678.70" y="206.6" width="3.1" height="11.7" fill="#f23645"/>
<line x1="684.16" y1="212.1" x2="684.16" y2="228.7" stroke="#089981" stroke-width="1"/>
<rect x="682.61" y="216.9" width="3.1" height="2.1" fill="#089981"/>
<line x1="688.08" y1="205.9" x2="688.08" y2="236.7" stroke="#f23645" stroke-width="1"/>
<rect x="686.53" y="212.8" width="3.1" height="22.8" fill="#f23645"/>
<line x1="691.99" y1="205.4" x2="691.99" y2="237.0" stroke="#089981" stroke-width="1"/>
<rect x="690.44" y="207.2" width="3.1" height="28.2" fill="#089981"/>
<line x1="695.91" y1="196.2" x2="695.91" y2="221.1" stroke="#f23645" stroke-width="1"/>
<rect x="694.36" y="207.2" width="3.1" height="13.2" fill="#f23645"/>
<line x1="699.82" y1="213.5" x2="699.82" y2="232.2" stroke="#f23645" stroke-width="1"/>
<rect x="698.27" y="219.3" width="3.1" height="9.1" fill="#f23645"/>
<line x1="703.73" y1="212.8" x2="703.73" y2="230.8" stroke="#089981" stroke-width="1"/>
<rect x="702.18" y="228.0" width="3.1" height="1.4" fill="#089981"/>
<line x1="707.65" y1="208.6" x2="707.65" y2="228.7" stroke="#089981" stroke-width="1"/>
<rect x="706.10" y="209.3" width="3.1" height="16.6" fill="#089981"/>
<line x1="711.56" y1="208.6" x2="711.56" y2="221.1" stroke="#f23645" stroke-width="1"/>
<rect x="710.01" y="209.3" width="3.1" height="2.5" fill="#f23645"/>
<line x1="715.48" y1="196.9" x2="715.48" y2="213.8" stroke="#089981" stroke-width="1"/>
<rect x="713.93" y="206.6" width="3.1" height="5.5" fill="#089981"/>
<line x1="719.39" y1="205.9" x2="719.39" y2="221.1" stroke="#f23645" stroke-width="1"/>
<rect x="717.84" y="206.6" width="3.1" height="14.1" fill="#f23645"/>
<line x1="723.31" y1="189.9" x2="723.31" y2="221.8" stroke="#089981" stroke-width="1"/>
<rect x="721.76" y="192.3" width="3.1" height="28.7" fill="#089981"/>
<line x1="727.22" y1="175.9" x2="727.22" y2="193.3" stroke="#089981" stroke-width="1"/>
<rect x="725.67" y="187.2" width="3.1" height="5.0" fill="#089981"/>
<line x1="731.14" y1="184.4" x2="731.14" y2="205.5" stroke="#f23645" stroke-width="1"/>
<rect x="729.59" y="187.4" width="3.1" height="16.9" fill="#f23645"/>
<line x1="735.05" y1="192.9" x2="735.05" y2="210.7" stroke="#089981" stroke-width="1"/>
<rect x="733.50" y="197.3" width="3.1" height="7.0" fill="#089981"/>
<line x1="738.97" y1="189.2" x2="738.97" y2="210.7" stroke="#f23645" stroke-width="1"/>
<rect x="737.42" y="197.3" width="3.1" height="2.3" fill="#f23645"/>
<line x1="742.88" y1="189.9" x2="742.88" y2="204.0" stroke="#f23645" stroke-width="1"/>
<rect x="741.33" y="199.3" width="3.1" height="1.8" fill="#f23645"/>
<line x1="746.79" y1="171.3" x2="746.79" y2="200.8" stroke="#089981" stroke-width="1"/>
<rect x="745.24" y="175.0" width="3.1" height="25.3" fill="#089981"/>
<line x1="750.71" y1="168.6" x2="750.71" y2="190.6" stroke="#f23645" stroke-width="1"/>
<rect x="749.16" y="175.4" width="3.1" height="13.5" fill="#f23645"/>
<line x1="754.62" y1="173.5" x2="754.62" y2="189.4" stroke="#089981" stroke-width="1"/>
<rect x="753.07" y="178.0" width="3.1" height="10.9" fill="#089981"/>
<line x1="758.54" y1="159.4" x2="758.54" y2="178.7" stroke="#089981" stroke-width="1"/>
<rect x="756.99" y="175.0" width="3.1" height="3.4" fill="#089981"/>
<line x1="762.45" y1="169.8" x2="762.45" y2="183.9" stroke="#f23645" stroke-width="1"/>
<rect x="760.90" y="175.0" width="3.1" height="8.2" fill="#f23645"/>
<line x1="766.37" y1="165.0" x2="766.37" y2="183.2" stroke="#089981" stroke-width="1"/>
<rect x="764.82" y="170.5" width="3.1" height="12.4" fill="#089981"/>
<line x1="770.28" y1="166.8" x2="770.28" y2="176.5" stroke="#089981" stroke-width="1"/>
<rect x="768.73" y="169.5" width="3.1" height="2.1" fill="#089981"/>
<line x1="774.20" y1="164.1" x2="774.20" y2="178.7" stroke="#f23645" stroke-width="1"/>
<rect x="772.65" y="169.8" width="3.1" height="8.2" fill="#f23645"/>
<line x1="778.11" y1="163.1" x2="778.11" y2="184.4" stroke="#089981" stroke-width="1"/>
<rect x="776.56" y="163.5" width="3.1" height="13.7" fill="#089981"/>
<line x1="782.02" y1="162.3" x2="782.02" y2="187.7" stroke="#f23645" stroke-width="1"/>
<rect x="780.47" y="163.1" width="3.1" height="20.1" fill="#f23645"/>
<line x1="785.94" y1="157.6" x2="785.94" y2="186.9" stroke="#089981" stroke-width="1"/>
<rect x="784.39" y="166.8" width="3.1" height="17.1" fill="#089981"/>
<line x1="789.85" y1="159.4" x2="789.85" y2="183.2" stroke="#f23645" stroke-width="1"/>
<rect x="788.30" y="167.1" width="3.1" height="15.8" fill="#f23645"/>
<line x1="793.77" y1="168.0" x2="793.77" y2="183.2" stroke="#089981" stroke-width="1"/>
<rect x="792.22" y="177.2" width="3.1" height="5.7" fill="#089981"/>
<line x1="797.68" y1="175.0" x2="797.68" y2="199.6" stroke="#f23645" stroke-width="1"/>
<rect x="796.13" y="177.2" width="3.1" height="12.2" fill="#f23645"/>
<line x1="801.60" y1="183.5" x2="801.60" y2="200.8" stroke="#f23645" stroke-width="1"/>
<rect x="800.05" y="189.2" width="3.1" height="11.1" fill="#f23645"/>
<line x1="805.51" y1="192.5" x2="805.51" y2="224.9" stroke="#089981" stroke-width="1"/>
<rect x="803.96" y="193.9" width="3.1" height="12.2" fill="#089981"/>
<line x1="809.43" y1="172.5" x2="809.43" y2="197.3" stroke="#089981" stroke-width="1"/>
<rect x="807.88" y="184.4" width="3.1" height="11.9" fill="#089981"/>
<line x1="813.34" y1="172.5" x2="813.34" y2="185.9" stroke="#089981" stroke-width="1"/>
<rect x="811.79" y="174.0" width="3.1" height="11.0" fill="#089981"/>
<line x1="817.25" y1="161.1" x2="817.25" y2="176.5" stroke="#089981" stroke-width="1"/>
<rect x="815.71" y="169.0" width="3.1" height="6.0" fill="#089981"/>
<line x1="821.17" y1="160.1" x2="821.17" y2="174.0" stroke="#f23645" stroke-width="1"/>
<rect x="819.62" y="168.3" width="3.1" height="1.5" fill="#f23645"/>
<line x1="825.08" y1="154.1" x2="825.08" y2="169.5" stroke="#089981" stroke-width="1"/>
<rect x="823.53" y="154.6" width="3.1" height="14.4" fill="#089981"/>
<line x1="829.00" y1="146.7" x2="829.00" y2="160.9" stroke="#089981" stroke-width="1"/>
<rect x="827.45" y="153.7" width="3.1" height="1.9" fill="#089981"/>
<line x1="832.91" y1="151.2" x2="832.91" y2="169.0" stroke="#f23645" stroke-width="1"/>
<rect x="831.36" y="154.1" width="3.1" height="4.1" fill="#f23645"/>
<line x1="836.83" y1="156.1" x2="836.83" y2="175.4" stroke="#f23645" stroke-width="1"/>
<rect x="835.28" y="157.6" width="3.1" height="8.0" fill="#f23645"/>
<line x1="840.74" y1="159.4" x2="840.74" y2="169.8" stroke="#f23645" stroke-width="1"/>
<rect x="839.19" y="165.0" width="3.1" height="4.5" fill="#f23645"/>
<line x1="844.66" y1="167.1" x2="844.66" y2="189.2" stroke="#f23645" stroke-width="1"/>
<rect x="843.11" y="169.0" width="3.1" height="19.9" fill="#f23645"/>
<line x1="848.57" y1="175.0" x2="848.57" y2="192.1" stroke="#089981" stroke-width="1"/>
<rect x="847.02" y="187.4" width="3.1" height="2.0" fill="#089981"/>
<line x1="852.49" y1="187.2" x2="852.49" y2="190.5" stroke="#f23645" stroke-width="1"/>
<rect x="850.94" y="187.2" width="3.1" height="3.3" fill="#f23645"/>
</g>
<text x="16.6" y="42.2" font-size="10" letter-spacing="-0.45" fill="#131722">SMA</text>
<text x="16.6" y="57.5" font-size="10" letter-spacing="-0.45" fill="#131722">SMA</text>
<text x="610" y="103" font-size="21" font-weight="bold" fill="#131722" letter-spacing="-0.6" style="word-spacing:1.0px" id="ttl">NZD/USD DAILY CHART</text>
<g clip-path="url(#ca)">
<text x="882" y="57.6" font-size="10.5" fill="#131722" letter-spacing="0.1">0.64000</text>
<text x="882" y="90.7" font-size="10.5" fill="#131722" letter-spacing="0.1">0.63000</text>
<text x="882" y="123.8" font-size="10.5" fill="#131722" letter-spacing="0.1">0.62000</text>
<text x="882" y="156.9" font-size="10.5" fill="#131722" letter-spacing="0.1">0.61000</text>
<text x="882" y="190.0" font-size="10.5" fill="#131722" letter-spacing="0.1">0.60000</text>
<text x="882" y="223.0" font-size="10.5" fill="#131722" letter-spacing="0.1">0.59000</text>
<text x="882" y="256.1" font-size="10.5" fill="#131722" letter-spacing="0.1">0.58000</text>
<text x="882" y="289.2" font-size="10.5" fill="#131722" letter-spacing="0.1">0.57000</text>
<text x="882" y="322.3" font-size="10.5" fill="#131722" letter-spacing="0.1">0.56000</text>
<text x="882" y="355.4" font-size="10.5" fill="#131722" letter-spacing="0.1">0.55000</text>
<text x="882" y="388.5" font-size="10.5" fill="#131722" letter-spacing="0.1">0.54000</text>
</g>
<rect x="874.5" y="182.5" width="51.5" height="15.400000000000006" rx="1.5" fill="#f23645"/>
<text x="882" y="194.1" font-size="11" font-weight="bold" fill="#fff" letter-spacing="-0.25">0.59884</text>
<rect x="874.5" y="197.9" width="51.5" height="15.599999999999994" rx="1.5" fill="#2962ff"/>
<text x="882" y="209.6" font-size="11" font-weight="bold" fill="#fff" letter-spacing="-0.25">0.59867</text>
<rect x="874.5" y="228.6" width="51.5" height="14.800000000000011" rx="1.5" fill="#000"/>
<text x="882" y="239.9" font-size="11" font-weight="bold" fill="#fff" letter-spacing="-0.25">0.58489</text>
<rect x="9.5" y="397.4" width="864.5" height="78.70000000000005" fill="rgba(126,87,194,0.115)"/>
<line x1="9.5" y1="397.4" x2="874" y2="397.4" stroke="#878993" stroke-width="1.1" stroke-dasharray="4.6 5.5" stroke-dashoffset="-3"/>
<line x1="9.5" y1="436.4" x2="874" y2="436.4" stroke="#878993" stroke-width="1.1" stroke-dasharray="4.6 5.5" stroke-dashoffset="-3"/>
<line x1="9.5" y1="476.1" x2="874" y2="476.1" stroke="#878993" stroke-width="1.1" stroke-dasharray="4.6 5.5" stroke-dashoffset="-3"/>
<text x="16.6" y="404.2" font-size="10" letter-spacing="-0.3" fill="#131722">RSI</text>
<path d="M9.5,410.1 C10.9,410.8 14.9,412.8 17.7,414.2 C20.4,415.7 23.1,417.3 25.8,418.7 C28.5,420.2 31.4,421.7 33.9,422.7 C36.5,423.7 39.2,424.4 41.2,424.7 C43.1,425.0 43.7,425.0 45.7,424.7 C47.6,424.4 51.0,423.0 52.9,422.7 C54.9,422.5 55.5,423.6 57.4,423.3 C59.4,422.9 62.4,421.5 64.7,420.5 C66.9,419.6 69.0,417.9 71.0,417.3 C73.0,416.7 74.8,416.9 76.4,416.9 C78.1,417.0 79.0,416.8 80.9,417.5 C82.9,418.1 85.8,419.6 88.2,420.9 C90.6,422.2 93.0,423.7 95.4,425.4 C97.8,427.2 100.5,429.5 102.6,431.4 C104.8,433.3 106.3,435.3 108.1,436.8 C109.9,438.3 111.7,438.9 113.5,440.4 C115.3,441.9 117.1,444.1 118.9,445.9 C120.7,447.7 122.5,449.8 124.3,451.3 C126.2,452.7 128.0,453.5 129.8,454.5 C131.6,455.6 133.4,456.8 135.2,457.6 C137.0,458.4 138.8,458.9 140.6,459.4 C142.4,460.0 144.2,460.4 146.0,460.9 C147.9,461.3 149.7,461.7 151.5,462.1 C153.3,462.6 155.1,463.0 156.9,463.6 C158.7,464.1 160.5,465.0 162.3,465.4 C164.1,465.8 165.0,466.4 167.7,466.1 C170.5,465.9 175.7,464.5 179.0,463.9 C182.4,463.4 185.1,463.1 188.1,463.0 C191.1,463.0 194.7,463.5 197.1,463.6 C199.5,463.6 200.4,463.7 202.5,463.4 C204.7,463.1 207.4,462.3 209.8,461.8 C212.2,461.3 214.9,460.5 217.0,460.3 C219.1,460.2 220.3,460.5 222.4,460.7 C224.6,460.9 227.3,461.5 229.7,461.6 C232.1,461.7 234.5,461.7 236.9,461.2 C239.3,460.8 241.7,459.8 244.1,459.1 C246.6,458.4 249.0,457.8 251.4,457.1 C253.8,456.4 256.2,455.4 258.6,454.9 C261.0,454.5 263.4,454.6 265.8,454.4 C268.3,454.2 270.7,453.8 273.1,453.6 C275.5,453.5 278.3,453.6 280.3,453.5 C282.3,453.4 283.3,452.9 284.8,453.1 C286.3,453.3 287.4,453.8 289.3,454.9 C291.3,456.1 294.2,458.6 296.6,460.0 C299.0,461.3 301.4,461.9 303.8,463.0 C306.2,464.2 308.6,465.6 311.0,466.7 C313.5,467.7 315.9,468.5 318.3,469.4 C320.7,470.3 323.1,471.5 325.5,472.1 C327.9,472.6 330.0,472.5 332.7,472.6 C335.5,472.8 339.4,473.1 342.2,473.0 C345.0,472.9 347.1,472.5 349.5,472.1 C351.9,471.6 354.3,471.0 356.7,470.3 C359.1,469.6 361.5,468.7 363.9,467.9 C366.3,467.2 368.8,467.0 371.2,465.8 C373.6,464.5 376.0,462.1 378.4,460.3 C380.8,458.5 383.2,456.6 385.6,454.9 C388.0,453.2 390.5,451.5 392.9,450.0 C395.3,448.6 397.7,447.5 400.1,446.2 C402.5,444.9 404.9,443.2 407.3,442.2 C409.7,441.3 412.5,441.2 414.6,440.4 C416.7,439.7 418.2,438.5 420.0,437.7 C421.8,436.9 423.3,435.8 425.4,435.6 C427.5,435.3 430.2,436.2 432.6,436.5 C435.1,436.7 437.8,436.9 439.9,437.2 C442.0,437.5 443.5,438.4 445.3,438.3 C447.1,438.2 448.9,437.1 450.7,436.5 C452.5,435.9 454.3,435.3 456.2,434.7 C458.0,434.0 459.8,433.6 461.6,432.7 C463.4,431.8 465.2,430.2 467.0,429.2 C468.8,428.3 470.3,427.2 472.4,426.9 C474.5,426.6 477.3,427.0 479.7,427.4 C482.1,427.9 484.8,429.0 486.9,429.6 C489.0,430.2 490.5,430.8 492.3,430.9 C494.1,430.9 495.3,429.9 497.7,430.0 C500.2,430.0 504.4,430.9 507.2,431.4 C510.0,431.9 512.1,432.2 514.5,432.7 C516.9,433.2 519.6,434.2 521.7,434.5 C523.8,434.7 525.0,434.8 527.1,434.1 C529.2,433.4 531.9,431.9 534.4,430.5 C536.8,429.1 539.5,426.7 541.6,425.6 C543.7,424.6 545.2,424.3 547.0,424.2 C548.8,424.0 550.6,424.5 552.4,424.7 C554.2,424.9 556.1,425.4 557.9,425.6 C559.7,425.8 561.5,425.7 563.3,426.0 C565.1,426.3 566.9,426.9 568.7,427.4 C570.5,427.9 572.3,428.8 574.1,429.0 C575.9,429.3 578.1,428.5 579.6,428.7 C581.1,428.8 581.7,428.8 583.2,430.0 C584.7,431.1 586.8,433.6 588.6,435.4 C590.4,437.1 592.2,439.4 594.0,440.4 C595.8,441.5 597.6,441.7 599.5,441.7 C601.3,441.7 603.1,441.0 604.9,440.4 C606.7,439.9 608.2,439.2 610.3,438.3 C612.4,437.3 615.4,436.0 617.5,434.7 C619.7,433.4 621.2,431.9 623.0,430.5 C624.8,429.1 626.6,427.3 628.4,426.3 C630.2,425.4 632.3,425.1 633.8,424.7 C635.3,424.3 635.9,425.2 637.4,424.2 C638.9,423.2 641.0,420.5 642.9,418.7 C644.7,417.0 646.5,415.1 648.3,413.9 C650.1,412.7 651.9,411.9 653.7,411.5 C655.5,411.1 657.3,411.3 659.1,411.5 C660.9,411.7 662.4,412.2 664.6,412.8 C666.7,413.3 669.7,414.0 672.2,414.8 C674.7,415.5 677.1,416.4 679.5,417.5 C681.9,418.6 684.3,420.4 686.7,421.5 C689.1,422.5 691.5,422.8 693.9,423.8 C696.3,424.8 698.8,426.5 701.2,427.4 C703.6,428.3 706.0,428.9 708.4,429.2 C710.8,429.6 713.2,429.4 715.6,429.6 C718.0,429.8 720.5,430.3 722.9,430.5 C725.3,430.7 727.7,431.1 730.1,431.0 C732.5,430.9 734.9,430.3 737.3,430.0 C739.7,429.6 742.2,429.3 744.6,428.7 C747.0,428.1 749.4,427.2 751.8,426.3 C754.2,425.5 756.6,424.4 759.0,423.8 C761.4,423.2 763.9,423.2 766.3,422.7 C768.7,422.3 771.1,421.5 773.5,421.1 C775.9,420.7 778.3,420.6 780.7,420.5 C783.1,420.5 785.2,420.3 788.0,420.5 C790.7,420.8 794.5,421.3 797.2,422.0 C800.0,422.7 802.0,424.0 804.5,424.7 C806.9,425.4 809.3,426.0 811.7,426.3 C814.1,426.7 816.5,426.8 818.9,426.9 C821.3,426.9 823.7,426.6 826.1,426.5 C828.6,426.3 831.0,426.0 833.4,426.0 C835.8,426.0 838.5,426.2 840.6,426.5 C842.7,426.8 844.1,427.3 846.0,427.8 C847.9,428.2 851.0,429.0 852.0,429.2" fill="none" stroke="#f7d660" stroke-width="1.3"/>
<path d="M9.5,434.1 L13.1,433.2 L18.0,436.8 L22.2,425.6 L25.8,432.3 L29.8,422.4 L33.9,426.9 L37.5,421.5 L41.7,415.7 L45.1,416.9 L49.3,410.6 L53.3,397.9 L57.4,420.2 L61.1,410.1 L65.0,407.9 L68.8,406.1 L72.8,424.2 L76.8,428.7 L80.6,437.7 L84.6,448.6 L88.5,454.5 L92.3,451.3 L96.7,463.0 L100.3,456.4 L104.1,452.2 L108.1,454.0 L112.2,456.7 L116.2,461.2 L120.2,460.3 L123.8,457.6 L128.0,464.9 L131.9,460.7 L135.7,467.6 L139.7,464.3 L143.7,471.5 L147.9,468.5 L151.8,470.3 L156.0,469.7 L159.6,468.5 L163.6,472.1 L167.2,465.8 L170.5,452.7 L174.9,467.6 L178.7,441.3 L182.7,453.5 L186.3,454.0 L190.3,461.2 L194.1,468.5 L198.0,473.0 L202.0,469.0 L206.2,460.3 L210.1,454.0 L213.9,461.2 L217.9,464.9 L221.9,469.0 L226.1,463.6 L229.7,465.8 L233.3,447.3 L237.3,449.1 L241.4,440.1 L245.4,449.1 L249.2,448.6 L253.2,454.9 L257.2,445.0 L261.0,457.6 L264.6,446.8 L268.9,458.2 L272.7,461.2 L276.7,463.6 L280.3,466.1 L284.5,458.2 L288.4,462.5 L292.4,480.6 L296.2,478.4 L300.2,473.4 L304.2,473.0 L308.3,473.9 L312.3,477.0 L316.1,476.2 L320.1,471.5 L324.1,478.1 L327.9,478.1 L331.8,469.4 L335.8,459.4 L339.0,461.8 L342.8,466.7 L346.8,469.0 L350.7,477.5 L354.5,464.9 L358.5,457.6 L362.1,453.5 L366.3,455.8 L370.3,463.0 L374.2,432.8 L378.0,431.8 L382.4,435.4 L386.2,431.8 L389.8,424.2 L393.8,428.7 L397.7,435.9 L401.5,439.0 L405.5,445.5 L409.5,447.1 L413.7,447.1 L417.3,438.3 L421.3,426.9 L425.1,432.3 L429.0,438.6 L433.0,443.2 L436.8,438.3 L440.8,441.9 L444.8,430.5 L448.6,416.0 L452.5,413.0 L456.5,425.1 L460.7,425.1 L464.3,409.7 L468.3,419.6 L472.1,421.5 L476.0,425.1 L480.0,435.4 L483.8,452.2 L487.8,460.9 L491.8,453.5 L495.6,438.3 L499.6,423.3 L503.3,421.5 L507.2,429.6 L511.2,432.3 L515.0,427.4 L519.0,424.2 L523.1,433.2 L527.1,420.5 L531.1,406.6 L534.9,407.0 L538.9,408.8 L542.9,426.9 L546.7,434.7 L550.6,434.7 L554.6,433.2 L558.2,434.7 L562.0,431.0 L566.4,440.4 L570.5,449.5 L574.1,441.9 L577.8,429.6 L581.7,416.6 L585.5,459.4 L589.5,467.2 L593.5,467.6 L597.3,444.1 L601.3,429.6 L605.2,417.8 L609.0,411.5 L613.0,408.3 L617.0,404.8 L621.2,401.0 L624.8,409.7 L628.8,402.5 L632.5,408.3 L636.9,413.3 L640.5,407.5 L644.3,415.1 L648.6,412.4 L652.4,421.5 L656.1,421.5 L660.0,426.9 L664.0,421.5 L668.3,416.9 L671.9,411.1 L675.5,426.0 L679.8,432.3 L683.6,432.8 L687.6,442.2 L691.6,427.4 L695.4,433.2 L699.4,438.6 L703.3,438.3 L707.1,428.1 L711.1,429.6 L715.1,426.3 L718.9,435.9 L722.9,420.5 L726.8,417.5 L730.6,428.7 L734.6,425.1 L738.6,426.3 L742.8,427.4 L746.4,413.7 L750.4,423.3 L754.2,417.5 L758.1,416.0 L762.1,422.4 L765.9,416.0 L769.9,415.1 L773.9,421.5 L777.7,413.9 L781.6,428.7 L785.3,419.6 L789.4,430.5 L793.4,426.9 L796.9,434.6 L800.8,441.9 L805.4,438.6 L809.5,431.9 L813.1,425.6 L817.1,422.0 L821.1,422.3 L824.9,413.8 L828.5,413.3 L832.5,416.9 L836.6,423.8 L840.2,426.9 L844.2,443.1 L847.8,442.2 L852.0,444.4" fill="none" stroke="#7e57c2" stroke-width="1.15" stroke-linejoin="round"/>
<text x="882" y="420.4" font-size="10.5" fill="#131722" letter-spacing="0.1">60.00</text>
<text x="882" y="460.1" font-size="10.5" fill="#131722" letter-spacing="0.1">40.00</text>
<rect x="874.5" y="422.4" width="39.5" height="15.0" rx="1.5" fill="#fdd835"/>
<text x="882" y="433.8" font-size="11" font-weight="bold" fill="#131722" letter-spacing="-0.25">53.41</text>
<rect x="874.5" y="438.2" width="39.5" height="15.0" rx="1.5" fill="#7e57c2"/>
<text x="882" y="449.6" font-size="11" font-weight="bold" fill="#fff" letter-spacing="-0.25">45.52</text>
<text x="73.5" y="500.8" font-size="11" fill="#131722" text-anchor="middle">Oct</text>
<text x="163.5" y="500.8" font-size="11" fill="#131722" text-anchor="middle">Nov</text>
<text x="245.7" y="500.8" font-size="11" fill="#131722" text-anchor="middle">Dec</text>
<text x="327.9" y="500.8" font-size="11" fill="#131722" text-anchor="middle" font-weight="bold">2025</text>
<text x="414.1" y="500.8" font-size="11" fill="#131722" text-anchor="middle">Feb</text>
<text x="492.4" y="500.8" font-size="11" fill="#131722" text-anchor="middle">Mar</text>
<text x="574.6" y="500.8" font-size="11" fill="#131722" text-anchor="middle">Apr</text>
<text x="660.7" y="500.8" font-size="11" fill="#131722" text-anchor="middle">May</text>
<text x="746.8" y="500.8" font-size="11" fill="#131722" text-anchor="middle">Jun</text>
<text x="829.0" y="500.8" font-size="11" fill="#131722" text-anchor="middle">Jul</text>
<g fill="#131722"><path d="M9,521 h8 v9 h-4.2 v-4.9 h-3.8 z"/><circle cx="19.4" cy="523" r="1.6"/><path d="M23.3,521 h4.4 l-3.6,9 h-4.4 z"/></g>
<text x="30.6" y="530" font-size="12" fill="#131722" stroke="#131722" stroke-width="0.2" letter-spacing="-0.2" id="tv">TradingView</text>
</svg></body></html>
